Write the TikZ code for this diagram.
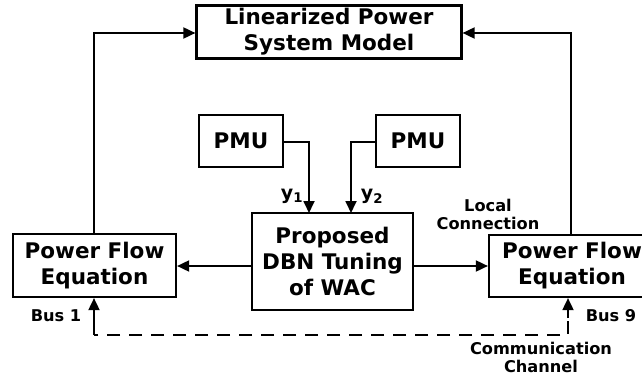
\documentclass[tikz,border=0pt]{standalone}
\usepackage{fontspec}
\setmainfont{DejaVu Sans}
\usetikzlibrary{arrows.meta}
\begin{document}
\begin{tikzpicture}[x=1pt,y=-1pt,
  blk/.style={draw, line width=2.2pt, font=\bfseries\fontsize{21.5}{26}\selectfont, align=center, inner sep=0pt},
  lbl/.style={font=\bfseries\fontsize{16.2}{18}\selectfont, align=center, inner sep=0pt},
  wire/.style={line width=1.8pt, -{Triangle[length=12pt,width=11pt]}},
  dline/.style={line width=1.8pt, dash pattern=on 13pt off 9pt}]
\useasboundingbox (0,0) rectangle (642,377);
\clip (0,0) rectangle (642,377);
% blocks
\node[blk, minimum width=265pt, minimum height=53pt] (lpsm) at (329,32) {Linearized Power\\System Model};
\node[blk, minimum width=84pt, minimum height=52pt] (pmu1) at (241,141) {PMU};
\node[blk, minimum width=84pt, minimum height=52pt] (pmu2) at (418,141) {PMU};
\node[blk, minimum width=161pt, minimum height=97pt] (dbn) at (332.5,261.5) {Proposed\\DBN Tuning\\of WAC};
\node[blk, minimum width=163pt, minimum height=63pt] (pf1) at (94.5,265.5) {Power Flow\\Equation};
\node[blk, minimum width=166pt, minimum height=62pt] (pf9) at (572,266) {Power Flow\\Equation};
% measurement inputs
\draw[wire] (pmu1.east |- 0,142) -| (309,213) coordinate (in1);
\draw[wire] (pmu2.west |- 0,142) -| (351,213) coordinate (in2);
\node[lbl, font=\bfseries\fontsize{19}{20}\selectfont] (y1) at (292,196) {y\textsubscript{1}};
\node[lbl, font=\bfseries\fontsize{19}{20}\selectfont] (y2) at (372,196) {y\textsubscript{2}};
% controller outputs
\draw[wire] (dbn.west |- 0,266) -- (pf1.east |- 0,266);
\draw[wire] (dbn.east |- 0,266) -- (pf9.west |- 0,266);
% feedback to the linearized model
\draw[wire] (94,234) -- (94,33) -- (lpsm.west |- 0,33);
\draw[wire] (571,235) -- (571,33) -- (lpsm.east |- 0,33);
% communication channel
\coordinate (c9) at (568,335);
\coordinate (c1) at (94,335);
\draw[dline] (568,321) -- (c9) -- (c1);
\draw[wire] (568,318) -- (pf9.south -| 568,0);
\draw[wire] (c1) -- (pf1.south -| 94,0);
% labels
\node[lbl] (bus1) at (56,316) {Bus 1};
\node[lbl] (bus9) at (611,316) {Bus 9};
\node[lbl] (local) at (488,214) {Local\\Connection};
\node[lbl] (comm) at (541,357) {Communication\\Channel};
\end{tikzpicture}
\end{document}
